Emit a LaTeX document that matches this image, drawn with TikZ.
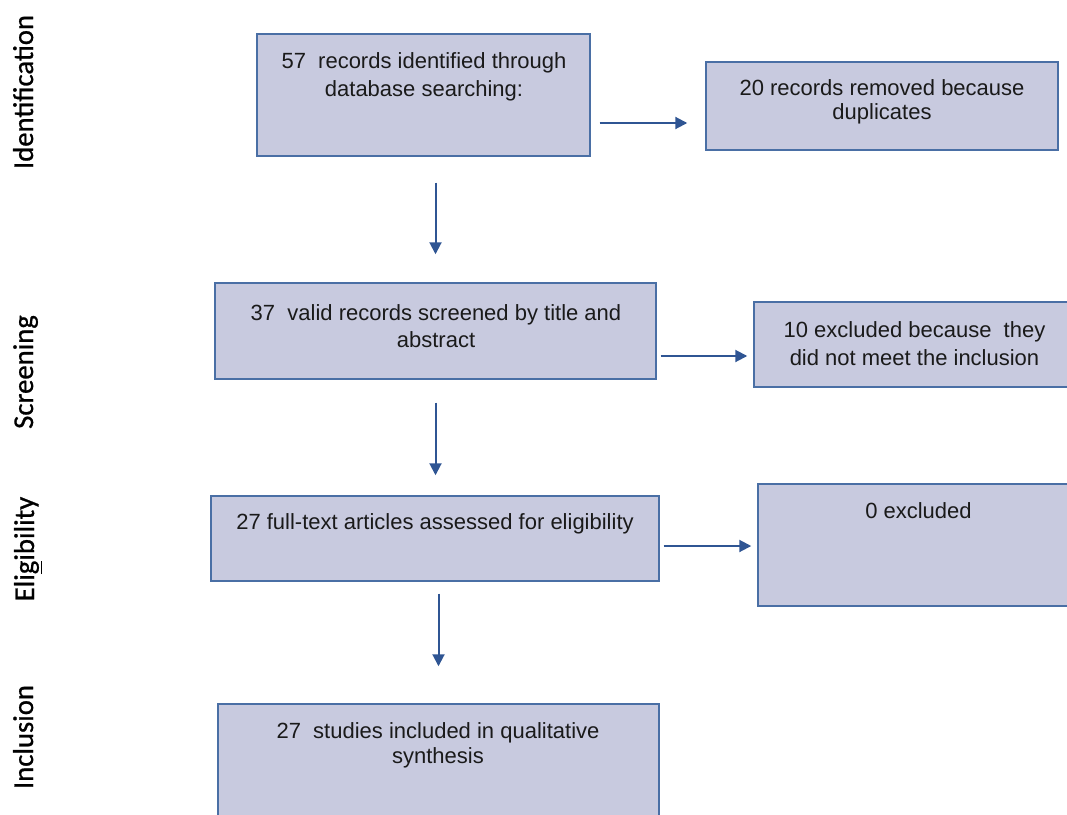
\documentclass[tikz,border=0pt]{standalone}
\usepackage{fontspec}
\setmainfont{Liberation Sans}
\newfontfamily\labfont[FakeBold=0.8]{Carlito}
\usetikzlibrary{arrows.meta,fit}
\definecolor{boxfill}{HTML}{C8CADF}
\definecolor{boxline}{HTML}{4A6FA5}
\definecolor{arrowc}{HTML}{2F5593}
\definecolor{txtc}{HTML}{1A1A1A}
\begin{document}
\begin{tikzpicture}[x=0.75pt,y=-0.75pt,
  box/.style={draw=boxline, fill=boxfill, line width=1.1pt, inner sep=0pt},
  txt/.style={font=\fontsize{16.5}{20}\selectfont, align=center, text=txtc, inner sep=0pt},
  arr/.style={draw=arrowc, line width=1.5pt, -{Triangle[length=9pt,width=9pt]}},
  lab/.style={font=\labfont\fontsize{21.5}{24}\selectfont, rotate=90, anchor=base, inner sep=0pt, text=black}]
\useasboundingbox (0,0) rectangle (1067,814);
\clip (0,0) rectangle (1067,814);
% boxes
\node[box, fit={(257,34)(590,156)}] (b1) {};
\node[box, fit={(706,62)(1058,150)}] (b2) {};
\node[box, fit={(215,283)(656,379)}] (b3) {};
\node[box, fit={(754,302)(1076,387)}] (b4) {};
\node[box, fit={(211,496)(659,581)}] (b5) {};
\node[box, fit={(758,484)(1079,606)}] (b6) {};
\node[box, fit={(218,704)(659,850)}] (b7) {};
% texts
\node[txt, font=\fontsize{16.5}{21}\selectfont] (t1) at (424,77) {57\ \ records identified through\\database searching:};
\node[txt, font=\fontsize{16.5}{18}\selectfont] (t2) at (882,102) {20 records removed because\\duplicates};
\node[txt, font=\fontsize{16.5}{20}\selectfont] (t3) at (436,326) {37\ \ valid records screened by title and\\abstract};
\node[txt, font=\fontsize{16.5}{21}\selectfont] (t4) at (914.5,344) {10 excluded because\ \ they\\did not meet the inclusion};
\node[txt] (t5) at (435,524) {27 full-text articles assessed for eligibility};
\node[txt] (t6) at (918.5,511) {0 excluded};
\node[txt, font=\fontsize{16.5}{19}\selectfont] (t7) at (438,745.5) {27\ \ studies included in qualitative\\synthesis};
% connectors
\coordinate (y1) at (0,123);
\coordinate (y2) at (0,356);
\coordinate (y3) at (0,546);
\draw[arr, shorten <=6.75pt, shorten >=13.5pt] (b1.east |- y1) -- (b2.west |- y1);
\draw[arr, shorten <=3pt, shorten >=4.5pt] (b3.east |- y2) -- (b4.west |- y2);
\draw[arr, shorten <=3pt, shorten >=4.5pt] (b5.east |- y3) -- (b6.west |- y3);
\draw[arr, shorten <=19.5pt, shorten >=21pt] (b3.north |- b1.south) -- (b3.north);
\draw[arr, shorten <=17.25pt, shorten >=15pt] (b3.south) -- (b3.south |- b5.north);
\draw[arr, shorten <=9pt, shorten >=27.75pt] (b7.north |- b5.south) -- (b7.north);
% stage labels
\node[lab] (l1) at (33,92) {Identification};
\node[lab] (l2) at (33,372) {Screening};
\node[lab] (l3) at (34,549) {Eli\underline{g}ibility};
\node[lab] (l4) at (33,737) {Inclusion};
\end{tikzpicture}
\end{document}
